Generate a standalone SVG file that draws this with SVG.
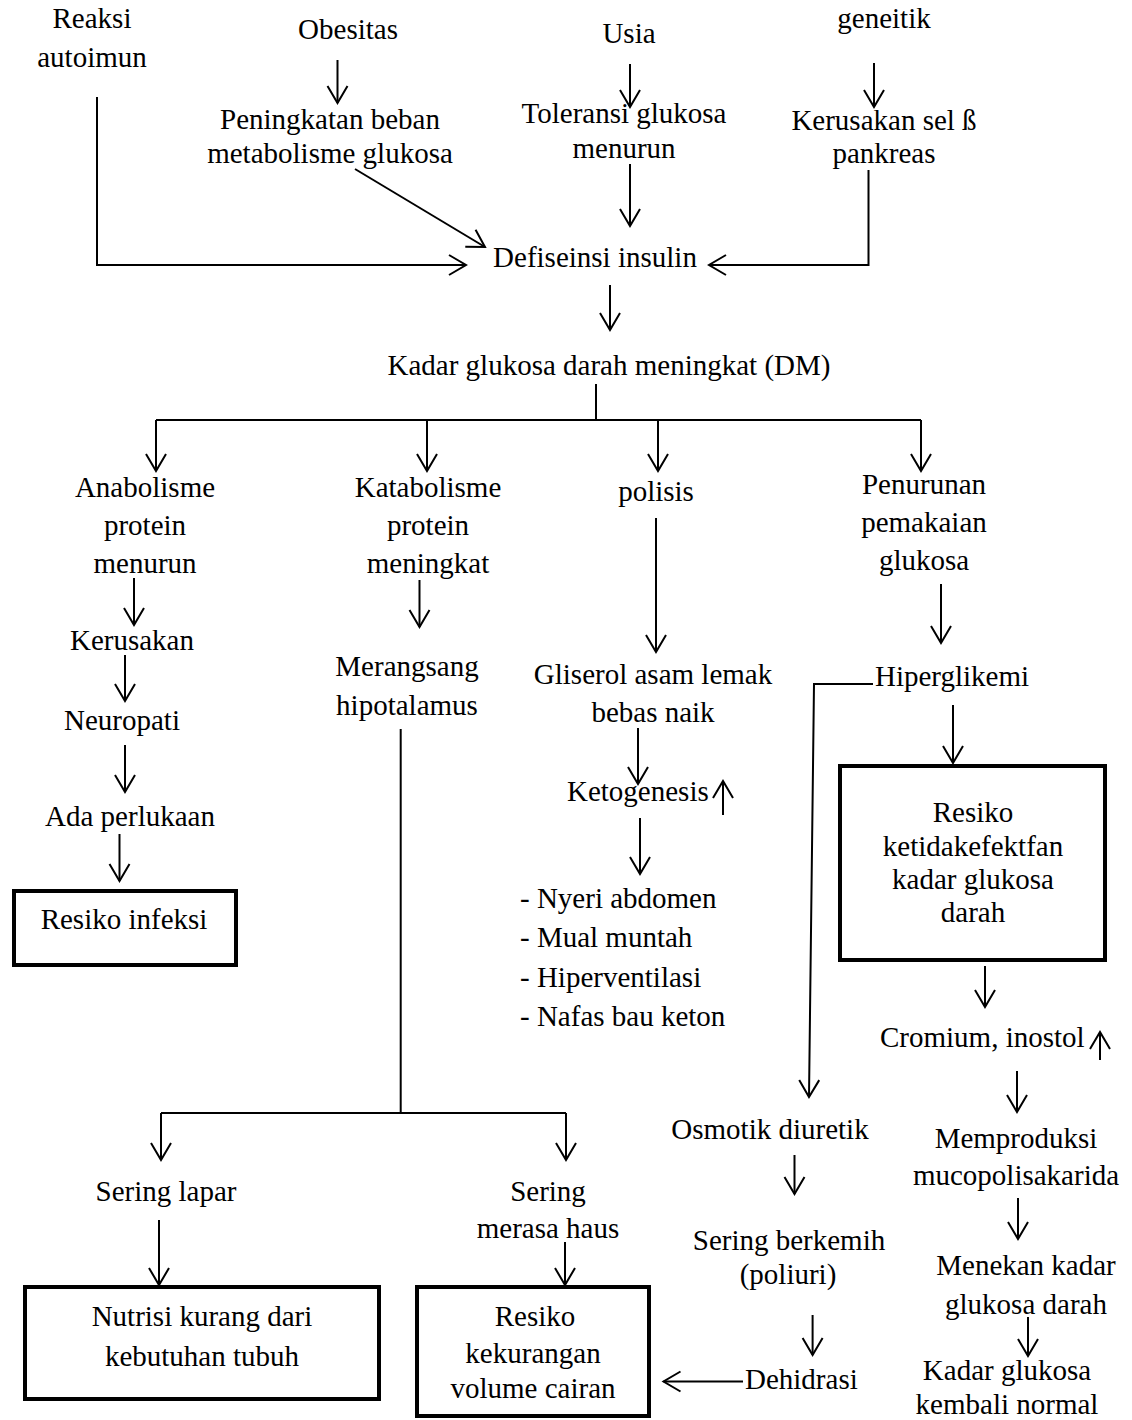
<svg xmlns="http://www.w3.org/2000/svg" width="1132" height="1420" viewBox="0 0 1132 1420">
<style>
text{font-family:"Liberation Serif","Times New Roman",serif;font-size:29px;fill:#000}
.m{text-anchor:middle}
.c{fill:none;stroke:#000;stroke-width:2;marker-end:url(#ah)}
.l{fill:none;stroke:#000;stroke-width:2}
.b{fill:#fff;stroke:#000;stroke-width:4}
</style>
<defs>
<marker id="ah" markerUnits="userSpaceOnUse" markerWidth="26" markerHeight="26" viewBox="-20 -13 26 26" refX="0" refY="0" orient="auto">
<path d="M-17,-10 L0,0 L-17,10" fill="none" stroke="#000" stroke-width="2"/>
</marker>
</defs>
<rect width="1132" height="1420" fill="#fff"/>

<g id="connectors">
<path class="c" d="M337.5,60 V103"/>
<path class="c" d="M630,64 V107"/>
<path class="c" d="M874,63 V107"/>
<path class="c" d="M630,164 V226"/>
<path class="c" d="M355,169 L485,247"/>
<path class="c" d="M97,97 V265 H466"/>
<path class="c" d="M868.5,170 V265 H709"/>
<path class="c" d="M610,285 V330"/>
<path class="l" d="M596,384 V420"/>
<path class="l" d="M156,420 H921"/>
<path class="c" d="M156,420 V471"/>
<path class="c" d="M427,420 V471"/>
<path class="c" d="M658,420 V471"/>
<path class="c" d="M921,420 V471"/>
<path class="c" d="M134,578 V625"/>
<path class="c" d="M125,655 V701"/>
<path class="c" d="M125,745 V792"/>
<path class="c" d="M119.5,834 V881"/>
<path class="c" d="M419.5,580 V627"/>
<path class="l" d="M400.7,729 V1113"/>
<path class="l" d="M161,1113 H566"/>
<path class="c" d="M161,1113 V1160"/>
<path class="c" d="M566,1113 V1160"/>
<path class="c" d="M656,518 V652"/>
<path class="c" d="M638,728 V784"/>
<path class="c" d="M640,818 V874"/>
<path class="c" d="M941,584 V643"/>
<path class="c" d="M953,705 V763"/>
<path class="c" d="M873,684 H814 L809,1097"/>
<path class="c" d="M985,966 V1007"/>
<path class="c" d="M1017,1071 V1112"/>
<path class="c" d="M1018,1198 V1239"/>
<path class="c" d="M1028,1317 V1356"/>
<path class="c" d="M794.5,1155 V1194"/>
<path class="c" d="M812.6,1315 V1355"/>
<path class="c" d="M743,1381.5 H663.5"/>
<path class="c" d="M159,1220 V1285"/>
<path class="c" d="M565,1242 V1285"/>
</g>

<g id="reaksi"><text class="m" x="92" y="28">Reaksi</text><text class="m" x="92" y="67">autoimun</text></g>
<g id="obesitas"><text class="m" x="348" y="39">Obesitas</text></g>
<g id="peningkatan"><text class="m" x="330" y="129">Peningkatan beban</text><text class="m" x="330" y="163">metabolisme glukosa</text></g>
<g id="usia"><text class="m" x="629" y="43">Usia</text></g>
<g id="toleransi"><text class="m" x="624" y="123">Toleransi glukosa</text><text class="m" x="624" y="158">menurun</text></g>
<g id="geneitik"><text class="m" x="884" y="28">geneitik</text></g>
<g id="kerusakan-sel"><text class="m" x="884" y="130">Kerusakan sel ß</text><text class="m" x="884" y="163">pankreas</text></g>
<g id="defisiensi"><text class="m" x="595" y="267">Defiseinsi insulin</text></g>
<g id="kadar-dm"><text class="m" x="609" y="375">Kadar glukosa darah meningkat (DM)</text></g>

<g id="anabolisme"><text class="m" x="145" y="497">Anabolisme</text><text class="m" x="145" y="535">protein</text><text class="m" x="145" y="573">menurun</text></g>
<g id="katabolisme"><text class="m" x="428" y="497">Katabolisme</text><text class="m" x="428" y="535">protein</text><text class="m" x="428" y="573">meningkat</text></g>
<g id="polisis"><text class="m" x="656" y="501">polisis</text></g>
<g id="penurunan"><text class="m" x="924" y="494">Penurunan</text><text class="m" x="924" y="532">pemakaian</text><text class="m" x="924" y="570">glukosa</text></g>

<g id="kerusakan"><text class="m" x="132" y="650">Kerusakan</text></g>
<g id="neuropati"><text class="m" x="122" y="730">Neuropati</text></g>
<g id="perlukaan"><text class="m" x="130" y="826">Ada perlukaan</text></g>
<g id="resiko-infeksi"><rect class="b" x="14" y="891" width="222" height="74"/><text class="m" x="124" y="929">Resiko infeksi</text></g>

<g id="merangsang"><text class="m" x="407" y="676">Merangsang</text><text class="m" x="407" y="715">hipotalamus</text></g>

<g id="gliserol"><text class="m" x="653" y="684">Gliserol asam lemak</text><text class="m" x="653" y="722">bebas naik</text></g>
<g id="ketogenesis"><text x="567" y="801">Ketogenesis</text><path class="c" d="M723,815 V781"/></g>
<g id="gejala"><text x="520" y="908">- Nyeri abdomen</text><text x="520" y="947">- Mual muntah</text><text x="520" y="987">- Hiperventilasi</text><text x="520" y="1026">- Nafas bau keton</text></g>

<g id="hiperglikemi"><text class="m" x="952" y="686">Hiperglikemi</text></g>
<g id="resiko-glukosa"><rect class="b" x="840" y="766" width="265" height="194"/><text class="m" x="973" y="822">Resiko</text><text class="m" x="973" y="856">ketidakefektfan</text><text class="m" x="973" y="889">kadar glukosa</text><text class="m" x="973" y="922">darah</text></g>
<g id="cromium"><text x="880" y="1047">Cromium, inostol</text><path class="c" d="M1100,1060 V1032"/></g>
<g id="memproduksi"><text class="m" x="1016" y="1148">Memproduksi</text><text class="m" x="1016" y="1185">mucopolisakarida</text></g>
<g id="menekan"><text class="m" x="1026" y="1275">Menekan kadar</text><text class="m" x="1026" y="1314">glukosa darah</text></g>
<g id="normal"><text class="m" x="1007" y="1380">Kadar glukosa</text><text class="m" x="1007" y="1414">kembali normal</text></g>

<g id="osmotik"><text class="m" x="770" y="1139">Osmotik diuretik</text></g>
<g id="berkemih"><text class="m" x="789" y="1250">Sering berkemih</text><text class="m" x="788" y="1284">(poliuri)</text></g>
<g id="dehidrasi"><text x="745" y="1389">Dehidrasi</text></g>

<g id="lapar"><text class="m" x="166" y="1201">Sering lapar</text></g>
<g id="haus"><text class="m" x="548" y="1201">Sering</text><text class="m" x="548" y="1238">merasa haus</text></g>
<g id="nutrisi"><rect class="b" x="25" y="1287" width="354" height="112"/><text class="m" x="202" y="1326">Nutrisi kurang dari</text><text class="m" x="202" y="1366">kebutuhan tubuh</text></g>
<g id="resiko-cairan"><rect class="b" x="417" y="1287" width="232" height="129"/><text class="m" x="535" y="1326">Resiko</text><text class="m" x="533" y="1363">kekurangan</text><text class="m" x="533" y="1398">volume cairan</text></g>
</svg>
